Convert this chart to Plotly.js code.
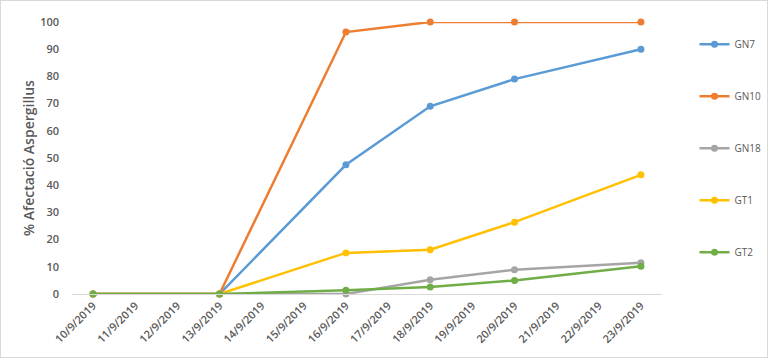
<!DOCTYPE html>
<html><head><meta charset="utf-8">
<script src="https://cdn.plot.ly/plotly-3.0.1.min.js"></script>
<style>html,body{margin:0;padding:0;background:#fff}#c{width:768px;height:358px;box-sizing:border-box;border:1px solid #d9d9d9}</style>
</head><body><div id="c"></div>
<script>
const categories = ["10/9/2019","11/9/2019","12/9/2019","13/9/2019","14/9/2019","15/9/2019","16/9/2019","17/9/2019","18/9/2019","19/9/2019","20/9/2019","21/9/2019","22/9/2019","23/9/2019"];
const sampleDates = ["10/9/2019","13/9/2019","16/9/2019","18/9/2019","20/9/2019","23/9/2019"];
const GN7  = [0, 0, 47.5, 69, 79, 90];
const GN10 = [0, 0, 96.3, 100, 100, 100];
const GN18 = [0, 0, 0, 5.2, 8.9, 11.5];
const GT1  = [0, 0, 15.1, 16.3, 26.4, 43.8];
const GT2  = [0, 0, 1.4, 2.6, 5, 10.2];
const seriesNames = ["GN7","GN10","GN18","GT1","GT2"];
const seriesValues = [GN7, GN10, GN18, GT1, GT2];
const colors = ["#5B9BD5","#ED7D31","#A5A5A5","#FFC000","#70AD47"];

const traces = seriesNames.map((n,i)=>({
  type:'scatter', mode:'lines+markers', name:n, x:sampleDates, y:seriesValues[i],
  line:{color:colors[i], width:2.5}, marker:{color:colors[i], size:7},
  legendgroup:n, cliponaxis:false
}));

const layout = {
  width:768, height:358,
  margin:{l:71, r:107, t:21, b:65, autoexpand:false},
  paper_bgcolor:'rgba(0,0,0,0)', plot_bgcolor:'#fff',
  font:{family:'"Open Sans", sans-serif', color:'#595959'},
  showlegend:true,
  legend:{x:0.903, xanchor:'left', y:0.92, yanchor:'top', xref:'container', yref:'container',
    maxheight:320, font:{size:10, color:'#595959'}, tracegroupgap:33, itemwidth:30, bgcolor:'rgba(0,0,0,0)'},
  xaxis:{type:'category', categoryorder:'array', categoryarray:categories, range:[-0.5,13.5],
    showgrid:false, zeroline:false, showline:true, linecolor:'#d9d9d9', linewidth:1,
    ticks:'', tickangle:-45, tickfont:{size:11, color:'#595959', weight:600}, fixedrange:true},
  yaxis:{range:[0,100], dtick:10, tick0:0, showgrid:false, zeroline:false, showline:false,
    ticks:'', ticklabelstandoff:12, tickfont:{size:11, color:'#595959', weight:600},
    title:{text:'% Afectació Aspergillus', font:{size:14, color:'#595959', weight:600}, standoff:2}}
};
Plotly.newPlot('c', traces, layout, {displayModeBar:false, staticPlot:true});
</script></body></html>
